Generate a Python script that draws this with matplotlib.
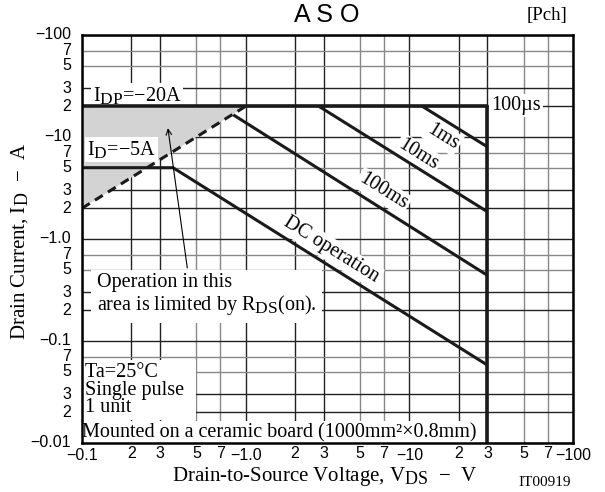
import matplotlib
matplotlib.use("Agg")
import matplotlib.pyplot as plt
import matplotlib._mathtext as mathtext_internals
import numpy as np

# ASO curve data (drain-to-source voltage |V|, drain current |A|)
boundary_v = [0.1, 30, 30]
boundary_i = [20, 20, 0.01]
rds_v = [0.1, 1.0]
rds_i = [2, 20]
shade_v = [0.1, 1.0, 0.1]
shade_i = [2, 20, 20]
ms1_v = [12, 30]
ms1_i = [20, 8]
ms10_v = [2.8, 30]
ms10_i = [20, 1.85]
ms100_v = [0.84, 30]
ms100_i = [16.5, 0.44]
dc_v = [0.1, 0.36, 30]
dc_i = [5, 5, 0.058]

x_ticks = [0.1, 0.2, 0.3, 0.5, 0.7, 1, 2, 3, 5, 7, 10, 20, 30, 50, 70, 100]
x_labels = ["−0.1", "2", "3", "5", "7", "−1.0", "2", "3", "5", "7",
            "−10", "2", "3", "5", "7", "−100"]
y_ticks = [0.01, 0.02, 0.03, 0.05, 0.07, 0.1, 0.2, 0.3, 0.5, 0.7,
           1, 2, 3, 5, 7, 10, 20, 30, 50, 70, 100]
y_labels = ["−0.01", "2", "3", "5", "7", "−0.1", "2", "3", "5", "7",
            "−1.0", "2", "3", "5", "7", "−10", "2", "3", "5", "7", "−100"]

# datasheet style subscripts are nearly full size
mathtext_internals.SHRINK_FACTOR = 0.86
plt.rcParams["mathtext.fontset"] = "custom"
plt.rcParams["mathtext.rm"] = "Liberation Serif"
plt.rcParams["mathtext.it"] = "Liberation Serif"
SERIF = "Liberation Serif"
SANS = "Liberation Sans"

fig = plt.figure(figsize=(6.05, 4.92), dpi=100)
ax = fig.add_axes([0.1355, 0.0996, 0.8116, 0.8293])
ax.set_xscale("log")
ax.set_yscale("log")
ax.set_xlim(0.1, 100)
ax.set_ylim(0.01, 100)

# grid: decades and 2/3 dark, 5/7 grey
for v in x_ticks:
    m = round(v / 10 ** np.floor(np.log10(v) + 1e-9))
    col = "#888888" if m in (5, 7) else "#222222"
    ax.axvline(v, color=col, lw=1.0, zorder=1)
for v in y_ticks:
    m = round(v / 10 ** np.floor(np.log10(v) + 1e-9))
    col = "#888888" if m in (5, 7) else "#222222"
    ax.axhline(v, color=col, lw=1.0, zorder=1)

ax.fill(shade_v, shade_i, color="#d3d3d3", lw=0, zorder=2)

lw = 2.2
ax.plot(boundary_v, boundary_i, color="#1a1a1a", lw=2.6, zorder=5, solid_capstyle="butt")
ax.plot(rds_v, rds_i, color="#1a1a1a", lw=lw, ls=(0, (3, 2)), zorder=5)
for xs, ys in [(ms1_v, ms1_i), (ms10_v, ms10_i), (ms100_v, ms100_i), (dc_v, dc_i)]:
    ax.plot(xs, ys, color="#1a1a1a", lw=lw, zorder=5, solid_capstyle="butt")

wbox = dict(facecolor="white", edgecolor="none", pad=1.5)
fs = 14.5
ax.text(0.116, 25.5, r"I$_{\mathrm{DP}}$=−20A", family=SERIF, fontsize=fs,
        va="center", ha="left", bbox=wbox, zorder=4)
ax.text(0.107, 7.6, r"I$_{\mathrm{D}}$=−5A", family=SERIF, fontsize=fs,
        va="center", ha="left", bbox=wbox, zorder=4)
ax.text(31.5, 20.5, "100µs", family=SERIF, fontsize=fs,
        va="center", ha="left", bbox=wbox, zorder=4)

ang = -31.9
ax.text(16.0, 10.0, "1ms", family=SERIF, fontsize=fs, rotation=ang,
        rotation_mode="anchor", ha="center", va="center", bbox=wbox, zorder=4)
ax.text(11.3, 6.7, "10ms", family=SERIF, fontsize=fs, rotation=ang,
        rotation_mode="anchor", ha="center", va="center", bbox=wbox, zorder=4)
ax.text(6.9, 2.9, "100ms", family=SERIF, fontsize=fs, rotation=ang,
        rotation_mode="anchor", ha="center", va="center", bbox=wbox, zorder=4)
ax.text(3.32, 0.78, "DC operation", family=SERIF, fontsize=fs, rotation=ang,
        rotation_mode="anchor", ha="center", va="center", bbox=wbox, zorder=4)

ax.text(0.1235, 0.28, "Operation in this\narea is limited by R$_{\\mathrm{DS}}$(on).",
        family=SERIF, fontsize=fs, va="center", ha="left", linespacing=1.05,
        bbox=dict(facecolor="white", edgecolor="none", pad=4), zorder=4)
ax.annotate("", xy=(0.335, 12.2), xytext=(0.44, 0.52),
            arrowprops=dict(arrowstyle="->", lw=0.8, color="black",
                            shrinkA=0, shrinkB=0), zorder=6)

ax.text(0.1043, 0.0330, "Ta=25°C       \nSingle pulse\n1 unit", family=SERIF,
        fontsize=fs, va="center", ha="left", linespacing=0.88,
        bbox=dict(facecolor="white", edgecolor="none", pad=2), zorder=4)
ax.text(0.1005, 0.0127, "Mounted on a ceramic board (1000mm²×0.8mm)",
        family=SERIF, fontsize=fs, va="center", ha="left",
        bbox=dict(facecolor="white", edgecolor="none", pad=1.5), zorder=4)

# axes frame and ticks
for s in ax.spines.values():
    s.set_linewidth(1.8)
    s.set_zorder(7)
ax.set_xticks([])
ax.set_yticks([])
ax.minorticks_off()
ax.tick_params(which="both", length=0)
xt = ax.get_xaxis_transform()
for v, lab in zip(x_ticks, x_labels):
    dec = lab.startswith("−")
    ax.text(v, -0.031 if dec else -0.026, lab, transform=xt, family=SANS,
            fontsize=11.5, ha="center", va="center", clip_on=False)
yt = ax.get_yaxis_transform()
for v, lab in zip(y_ticks, y_labels):
    ax.text(-0.022, v, lab, transform=yt, family=SANS, fontsize=11.5,
            ha="right", va="center", clip_on=False)

fig.text(0.5405, 0.9695, "A S O", family=SANS, fontsize=18, ha="center", va="center")
fig.text(0.937, 0.968, "[Pch]", family=SERIF, fontsize=13.5, ha="right", va="center")
fig.text(0.537, 0.023, "Drain-to-Source Voltage, V$_{\\mathrm{DS}}$  −  V",
         family=SERIF, fontsize=15, ha="center", va="baseline")
fig.text(0.033, 0.51, "Drain Current, I$_{\\mathrm{D}}$  −  A", family=SERIF,
         fontsize=15, ha="center", va="center", rotation=90)
fig.text(0.901, 0.0203, "IT00919", family=SERIF, fontsize=11, ha="center", va="center")

fig.savefig("out.png", dpi=100)
